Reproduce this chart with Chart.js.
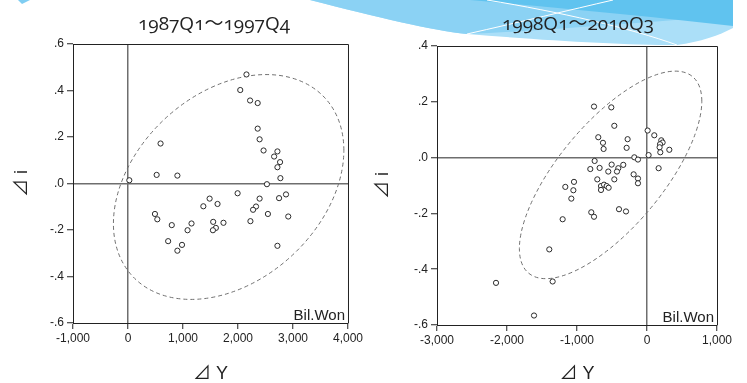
<!DOCTYPE html>
<html>
<head>
<meta charset="utf-8">
<script src="https://cdn.jsdelivr.net/npm/chart.js@4"></script>
<style>
  html, body { margin: 0; padding: 0; background: #fff; }
  #wrap { position: relative; width: 747px; height: 383px; overflow: hidden; }
  #deco { position: absolute; left: 0; top: 0; }
  canvas { position: absolute; top: 0; }
  #c1987 { left: 0; }
  #c1998 { left: 361px; }
  .ttl { position: absolute; top: 11px; line-height: 24px; font-family: 'Open Sans', 'Noto Sans CJK JP'; font-size: 19px;
         color: #222; font-variant-numeric: oldstyle-nums; white-space: nowrap; transform: translateX(-50%); }
</style>
</head>
<body>
<div id="wrap">
  <svg id="deco" width="747" height="383">
    <path d="M18,0 L30,0 L22,4 Z" fill="#7fcdf2"/>
    <path d="M310,0 C380,18 430,30 467,34 C540,40 620,45 677,45 C700,42 720,35 733,28 L733,0 Z" fill="#abdff8"/>
    <path d="M310,0 C380,18 430,30 467,34 C560,30 640,22 733,16 L733,0 Z" fill="#8bd2f4"/>
    <path d="M470,0 C560,8 650,16 733,26 L733,0 Z" fill="#60c3ef"/>
    <path d="M467,34 C520,22 570,10 613,0" stroke="#fff" stroke-width="1" fill="none"/>
    <path d="M487,0 C560,12 630,28 677,45" stroke="#fff" stroke-width="1" fill="none"/>
  </svg>
  <canvas id="c1987" width="365" height="383"></canvas>
  <canvas id="c1998" width="386" height="383"></canvas>
  <div class="ttl" style="left:214px">1987Q1～1997Q4</div>
  <div class="ttl" style="left:578px">1998Q1～2010Q3</div>
</div>
<script>
// 1987Q1-1997Q4, ΔY (bil. won) vs Δi
const dY1987 = [2154, 2041, 2220, 2358, 2358, 2393, 2465, 2717, 2657, 2765, 2717, 2771, 2526, 592, 521, 898, 24,
  1993, 1484, 1628, 1370, 2393, 2747, 2873, 2328, 2274, 2544, 2914, 2226, 490, 533, 796, 1155, 1083, 1549, 1736,
  1598, 1544, 730, 982, 898, 2717];
const di1987 = [0.469, 0.402, 0.357, 0.346, 0.236, 0.190, 0.142, 0.138, 0.116, 0.092, 0.070, 0.023, -0.003, 0.172,
  0.037, 0.034, 0.014, -0.042, -0.065, -0.088, -0.098, -0.065, -0.063, -0.047, -0.099, -0.113, -0.131, -0.142,
  -0.162, -0.131, -0.154, -0.179, -0.172, -0.201, -0.165, -0.169, -0.191, -0.201, -0.248, -0.264, -0.289, -0.268];

// 1998Q1-2010Q3
const dY1998 = [-757, -510, -467, -696, -629, -620, -277, -291, 9, 104, 204, 223, 186, 180, 190, 319, 23, -181, -129,
  166, -748, -810, -677, -505, -339, -410, -429, -553, -710, -467, -191, -129, -129, -1043, -1167, -1052, -657,
  -614, -576, -548, -657, -1081, -400, -300, -796, -757, -1205, -1396, -1348, -2157, -1614];
const di1998 = [0.183, 0.180, 0.114, 0.073, 0.053, 0.031, 0.066, 0.035, 0.097, 0.080, 0.062, 0.054, 0.048, 0.037,
  0.019, 0.028, 0.009, 0.001, -0.007, -0.038, -0.012, -0.041, -0.037, -0.025, -0.026, -0.038, -0.050, -0.050,
  -0.078, -0.078, -0.060, -0.075, -0.092, -0.087, -0.105, -0.117, -0.102, -0.097, -0.102, -0.108, -0.116, -0.147,
  -0.185, -0.193, -0.196, -0.212, -0.221, -0.329, -0.444, -0.449, -0.566];

// axis ranges [min, max, step]
const xAxis1987 = [-1000, 4000, 1000];
const yAxis1987 = [-0.6, 0.6, 0.2];
const xAxis1998 = [-3000, 1000, 1000];
const yAxis1998 = [-0.6, 0.4, 0.2];

// confidence ellipses: centre x, centre y, half-axis u (x, y), half-axis v (x, y)
const ellipse1987 = [1830, -0.015, 2095, 0.158, 0, 0.457];
const ellipse1998 = [-520, -0.062, 1303, 0.264, 0, 0.262];

const unitLabel = 'Bil.Won';

Chart.defaults.font.family = "'Liberation Sans', Arial, 'Noto Sans CJK JP'";
Chart.defaults.color = '#222';

const framePlugin = {
  id: 'frame',
  beforeDatasetsDraw(chart, args, opts) {
    const { ctx, scales: { x, y } } = chart;
    const [cx, cy, ux, uy, vx, vy] = opts.ellipse;
    const px = x.getPixelForValue(cx);
    const py = y.getPixelForValue(cy);
    ctx.save();
    ctx.beginPath();
    ctx.save();
    ctx.transform(
      x.getPixelForValue(cx + ux) - px, y.getPixelForValue(cy + uy) - py,
      x.getPixelForValue(cx + vx) - px, y.getPixelForValue(cy + vy) - py,
      px, py);
    ctx.arc(0, 0, 1, 0, Math.PI * 2);
    ctx.restore();
    ctx.setLineDash([4, 3]);
    ctx.lineWidth = 1;
    ctx.strokeStyle = '#707070';
    ctx.stroke();
    ctx.restore();
  },
  afterDraw(chart, args, opts) {
    const { ctx, chartArea: a } = chart;
    ctx.save();
    ctx.strokeStyle = '#222';
    ctx.lineWidth = 1;
    ctx.beginPath();
    ctx.moveTo(a.left, a.top + 0.5);
    ctx.lineTo(a.right + 0.5, a.top + 0.5);
    ctx.lineTo(a.right + 0.5, a.bottom);
    ctx.stroke();
    ctx.font = "15px 'Liberation Sans', Arial";
    ctx.fillStyle = '#222';
    ctx.textAlign = 'right';
    ctx.textBaseline = 'alphabetic';
    ctx.fillText(opts.unit, a.right - 3, a.bottom - 3);
    ctx.restore();
  },
};

const zeroGrid = (c) => (c.tick && Math.abs(c.tick.value) < 1e-9 ? '#6e6e6e' : 'rgba(0,0,0,0)');

const makeChart = (id, xs, ys, xAxis, yAxis, ellipse, box) => new Chart(document.getElementById(id), {
  type: 'scatter',
  data: {
    datasets: [{
      data: xs.map((v, i) => ({ x: v, y: ys[i] })),
      pointRadius: 2.6,
      pointHoverRadius: 2.6,
      pointBorderWidth: 1,
      borderColor: '#2b2b2b',
      backgroundColor: '#fff',
    }],
  },
  options: {
    responsive: false,
    animation: false,
    events: [],
    layout: { padding: { top: box.top, right: box.right, left: 0, bottom: 0 } },
    plugins: {
      legend: { display: false },
      tooltip: { enabled: false },
      frame: { ellipse, unit: unitLabel },
    },
    scales: {
      x: {
        type: 'linear',
        min: xAxis[0],
        max: xAxis[1],
        afterFit: (s) => { s.height = box.xHeight; },
        ticks: { stepSize: xAxis[2], padding: 2, font: { size: 12 }, maxRotation: 0, autoSkip: false,
          callback: (v) => v.toLocaleString('en-US') },
        grid: { color: zeroGrid, lineWidth: 1.5, tickColor: '#222', tickWidth: 1, tickLength: 6 },
        border: { color: '#222', width: 1 },
        title: { display: true, text: '⊿ Y', font: { size: 18, lineHeight: 1 }, padding: { top: 0, bottom: 0 } },
      },
      y: {
        type: 'linear',
        min: yAxis[0],
        max: yAxis[1],
        afterFit: (s) => { s.width = box.yWidth; },
        ticks: { stepSize: yAxis[2], padding: 3, font: { size: 12 },
          callback: (v) => (Math.abs(v) < 1e-9 ? '0.0' : v.toFixed(1)).replace('0.', '.') },
        grid: { color: zeroGrid, lineWidth: 1.5, tickColor: '#222', tickWidth: 1, tickLength: 6 },
        border: { color: '#222', width: 1 },
        title: { display: true, text: '⊿ i', font: { size: 18, lineHeight: 1 }, padding: { top: 13, bottom: 0 } },
      },
    },
  },
  plugins: [framePlugin],
});

makeChart('c1987', dY1987, di1987, xAxis1987, yAxis1987, ellipse1987, { top: 44, right: 13, yWidth: 73, xHeight: 60 });
makeChart('c1998', dY1998, di1998, xAxis1998, yAxis1998, ellipse1998, { top: 46, right: 30, yWidth: 76, xHeight: 58 });
</script>
</body>
</html>
